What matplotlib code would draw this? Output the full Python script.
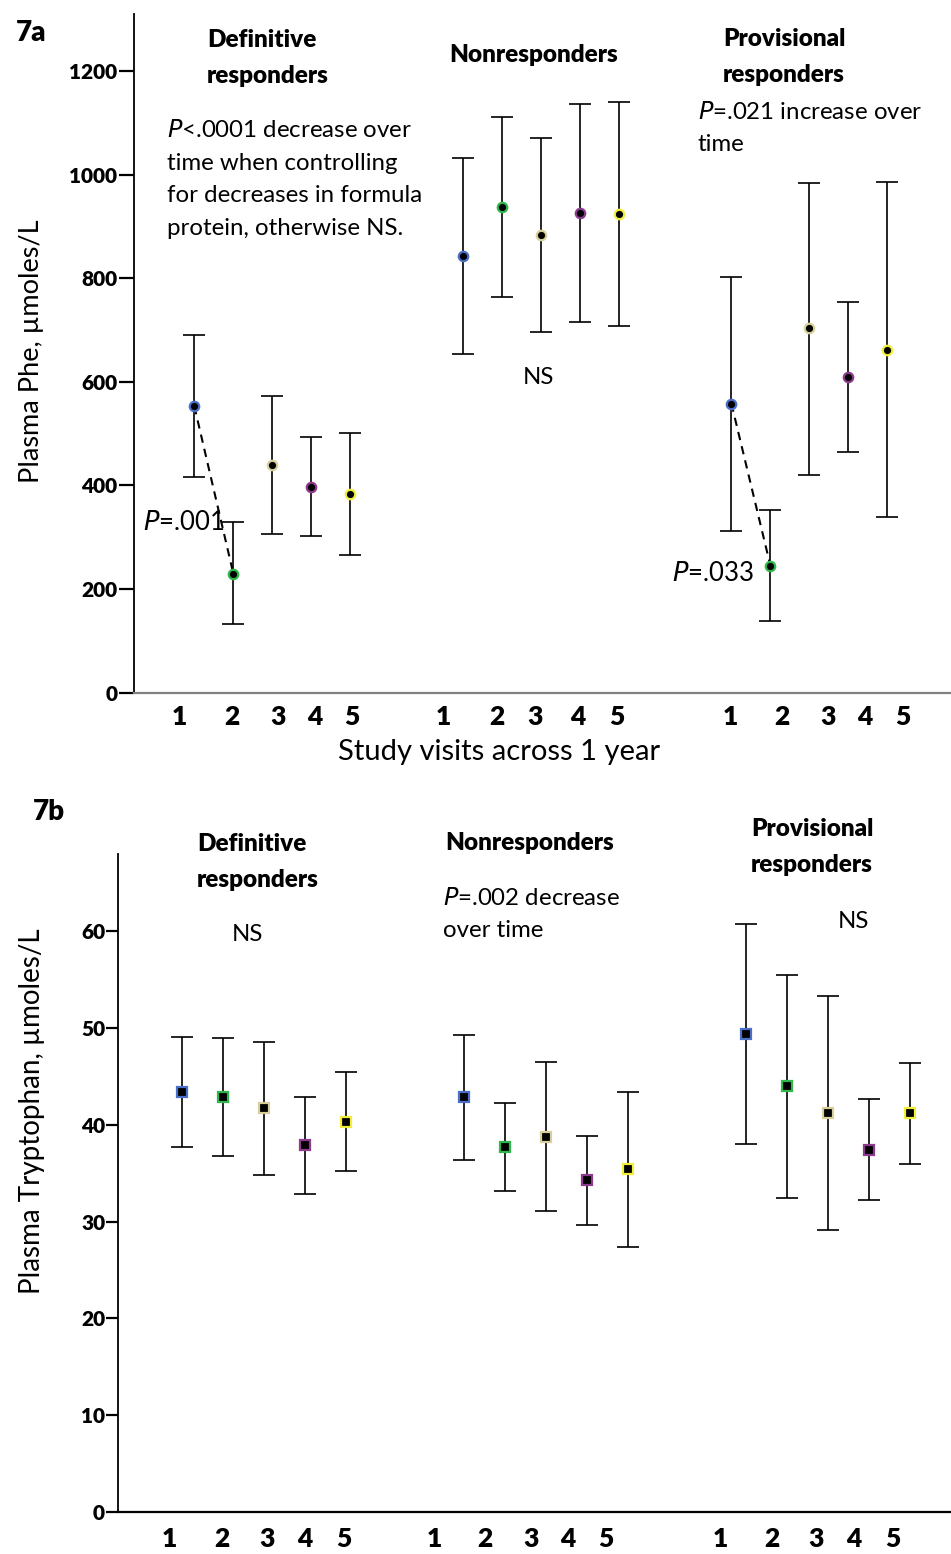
import numpy as np
import matplotlib
matplotlib.use("Agg")
import matplotlib.pyplot as plt

plt.rcParams['font.family'] = ['Lato', 'DejaVu Sans']

visits = [1, 2, 3, 4, 5]
groups = ["Definitive\nresponders", "Nonresponders", "Provisional\nresponders"]
visit_colors = ["#4a6fc8", "#2fb84a", "#d8d09a", "#8e3a8e", "#f2ee3a"]

# plasma Phe (umol/L): mean and error bar ends per visit
phe_def_mean = [553, 230, 439, 397, 383]
phe_def_hi = [691, 329, 572, 494, 502]
phe_def_lo = [416, 132, 306, 302, 265]
phe_non_mean = [843, 937, 883, 926, 924]
phe_non_hi = [1033, 1111, 1070, 1136, 1140]
phe_non_lo = [653, 763, 696, 715, 707]
phe_prov_mean = [558, 245, 703, 609, 662]
phe_prov_hi = [803, 352, 984, 754, 985]
phe_prov_lo = [312, 138, 421, 465, 339]

# plasma tryptophan (umol/L)
trp_def_mean = [43.4, 42.9, 41.7, 37.9, 40.3]
trp_def_hi = [49.1, 49.0, 48.6, 42.9, 45.5]
trp_def_lo = [37.7, 36.8, 34.8, 32.9, 35.2]
trp_non_mean = [42.9, 37.7, 38.8, 34.3, 35.4]
trp_non_hi = [49.3, 42.3, 46.5, 38.9, 43.4]
trp_non_lo = [36.4, 33.2, 31.1, 29.7, 27.4]
trp_prov_mean = [49.4, 44.0, 41.2, 37.4, 41.2]
trp_prov_hi = [60.8, 55.5, 53.3, 42.7, 46.4]
trp_prov_lo = [38.0, 32.5, 29.1, 32.2, 36.0]

group_gap = 6.885
label_x_a = [0.63, 1.97, 3.15, 4.10, 5.04, 7.38, 8.76, 9.74, 10.84, 11.84,
             14.74, 16.07, 17.25, 18.20, 19.17]
label_x_b = [0.69, 1.98, 3.08, 4.01, 4.96, 7.15, 8.40, 9.52, 10.42, 11.35,
             14.13, 15.40, 16.47, 17.40, 18.35]

W, H = 951, 1554
fig = plt.figure(figsize=(W / 100, H / 100), dpi=100)


def px(x, y):
    return x / W, 1 - y / H


def draw_panel(ax, means, his, los, marker, ms, cap):
    for g, (m, hi, lo) in enumerate(zip(means, his, los)):
        xs = np.array(visits) + g * group_gap
        m = np.array(m)
        err = [m - np.array(lo), np.array(hi) - m]
        ax.errorbar(xs, m, yerr=err, fmt="none", ecolor="black",
                    elinewidth=1.2, capsize=cap, capthick=1.2, zorder=2)
        for x, v, c in zip(xs, m, visit_colors):
            ax.plot(x, v, marker=marker, ms=ms, mfc="black", mec=c,
                    mew=1.6, ls="none", zorder=3)


# ---- 7a: Phe
ax1 = fig.add_axes([134 / W, 1 - 692.7 / H, (W - 134) / W, (692.7 - 14) / H])
draw_panel(ax1, [phe_def_mean, phe_non_mean, phe_prov_mean],
           [phe_def_hi, phe_non_hi, phe_prov_hi],
           [phe_def_lo, phe_non_lo, phe_prov_lo], "o", 6.8, 8)
ax1.set_ylim(0, 1310)
ax1.set_xlim(-0.546, 20.40)
ax1.set_yticks(range(0, 1201, 200))
ax1.set_xticks(label_x_a)
ax1.set_xticklabels([str(v) for v in visits] * 3)

# dashed lines visit 1 -> visit 2
ax1.plot([1, 2], [phe_def_mean[0], phe_def_mean[1]], ls=(0, (4, 3)), color="black", lw=1.5, zorder=1)
ax1.plot([1 + 2 * group_gap, 2 + 2 * group_gap], [phe_prov_mean[0], phe_prov_mean[1]],
         ls=(0, (4, 3)), color="black", lw=1.5, zorder=1)

# ---- 7b: tryptophan
ax2 = fig.add_axes([118.3 / W, 1 - 1512 / H, (W - 118.3) / W, (1512 - 854) / H])
draw_panel(ax2, [trp_def_mean, trp_non_mean, trp_prov_mean],
           [trp_def_hi, trp_non_hi, trp_prov_hi],
           [trp_def_lo, trp_non_lo, trp_prov_lo], "s", 7, 8)
ax2.set_ylim(0, 68)
ax2.set_xlim(-0.546, 19.76)
ax2.set_yticks(range(0, 61, 10))
ax2.set_xticks(label_x_b)
ax2.set_xticklabels([str(v) for v in visits] * 3)

for ax, tl, pad, bcol in [(ax1, 11, 9, "#808080"), (ax2, 8.5, 11, "black")]:
    ax.spines["top"].set_visible(False)
    ax.spines["right"].set_visible(False)
    ax.spines["left"].set_linewidth(1.3)
    ax.spines["bottom"].set_linewidth(1.6)
    ax.spines["bottom"].set_color(bcol)
    ax.tick_params(axis="y", length=tl, width=1.6, labelsize=15, pad=1)
    ax.tick_params(axis="x", length=0, labelsize=19, pad=pad)
    for lab in ax.get_xticklabels() + ax.get_yticklabels():
        lab.set_fontweight("heavy")

# axis titles
fig.text(*px(32, 351), "Plasma Phe, µmoles/L", rotation=90, fontsize=19.5,
         ha="center", va="center")
fig.text(*px(499, 752), "Study visits across 1 year", fontsize=21,
         ha="center", va="center")
fig.text(*px(32, 1111), "Plasma Tryptophan, µmoles/L", rotation=90, fontsize=20,
         ha="center", va="center")

# panel letters and group headings
head = dict(fontsize=17.5, fontweight="heavy", va="center", linespacing=1.8)
fig.text(*px(16, 33), "7a", fontsize=20, fontweight="heavy", va="center")
fig.text(*px(33, 812), "7b", fontsize=20, fontweight="heavy", va="center")

fig.text(*px(207, 58), groups[0], **head)
fig.text(*px(534, 55), groups[1], ha="center", **head)
fig.text(*px(723, 57), groups[2], **head)

fig.text(*px(197, 862), groups[0], **head)
fig.text(*px(530, 843), groups[1], ha="center", **head)
fig.text(*px(751, 847), groups[2], **head)

# statistics notes
note = dict(fontsize=17.3, va="center", linespacing=1.7)
fig.text(*px(167, 179), "$\\it{P}$<.0001 decrease over\ntime when controlling\n"
         "for decreases in formula\nprotein, otherwise NS.", **note)
fig.text(*px(538, 377), "NS", ha="center", **note)
fig.text(*px(698, 128), "$\\it{P}$=.021 increase over\ntime", **note)
fig.text(*px(143, 522), "$\\it{P}$=.001", fontsize=18.5, va="center")
fig.text(*px(672, 573), "$\\it{P}$=.033", fontsize=18.5, va="center")

fig.text(*px(247, 935), "NS", ha="center", **note)
fig.text(*px(443, 914), "$\\it{P}$=.002 decrease\nover time", **note)
fig.text(*px(853, 922), "NS", ha="center", **note)

fig.savefig("out.png", dpi=100)
